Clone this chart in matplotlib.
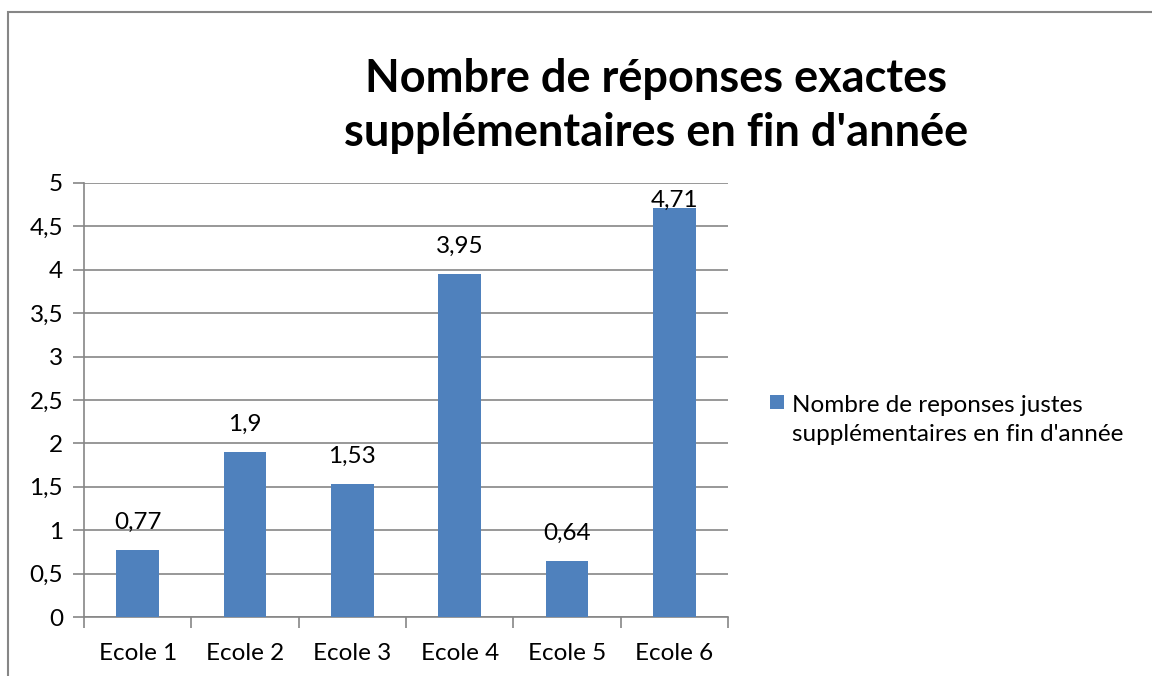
import matplotlib
matplotlib.use("Agg")
import matplotlib.pyplot as plt
from matplotlib.patches import Rectangle

categories = ["Ecole 1", "Ecole 2", "Ecole 3", "Ecole 4", "Ecole 5", "Ecole 6"]
values = [0.77, 1.9, 1.53, 3.95, 0.64, 4.71]
value_labels = ["0,77", "1,9", "1,53", "3,95", "0,64", "4,71"]
yticks = [0, 0.5, 1, 1.5, 2, 2.5, 3, 3.5, 4, 4.5, 5]
ytick_labels = ["0", "0,5", "1", "1,5", "2", "2,5", "3", "3,5", "4", "4,5", "5"]
title = "Nombre de réponses exactes\nsupplémentaires en fin d'année"
legend_label = "Nombre de reponses justes\nsupplémentaires en fin d'année"

plt.rcParams['font.family'] = ['Lato', 'DejaVu Sans']
W, H = 1152, 676
fig = plt.figure(figsize=(W / 100, H / 100), dpi=100)

# outer frame
fig.patches.append(Rectangle((8 / W, -0.1), 1.2, (H - 12) / H + 0.1, transform=fig.transFigure,
                             fill=False, edgecolor="#868686", linewidth=1.5))

ax_top, ax_bot = 183, 617
ax = fig.add_axes([84 / W, (H - ax_bot) / H, (728 - 84) / W, (ax_bot - ax_top) / H])
x = list(range(len(categories)))
color = "#4F81BD"
ymax = 5
ax.bar(x, values, width=0.4, color=color, zorder=3, label=legend_label)
ax.set_xlim(-0.5, len(categories) - 0.5)
ax.set_ylim(0, ymax)
ax.set_yticks(yticks)
ax.set_yticklabels(ytick_labels, fontsize=17.5)
ax.set_xticks(x)
ax.set_xticklabels(categories, fontsize=17.5)
ax.yaxis.grid(True, color="#868686", linewidth=1.2, zorder=0)
for s in ["top", "right"]:
    ax.spines[s].set_visible(False)
for s in ["left", "bottom"]:
    ax.spines[s].set_color("#868686")
    ax.spines[s].set_linewidth(1.2)
ax.tick_params(axis="y", length=8, color="#868686", width=1.2, pad=7)
ax.tick_params(axis="x", length=0, pad=19)
ax.set_xticks([i - 0.5 for i in range(len(categories) + 1)], minor=True)
ax.tick_params(axis="x", which="minor", length=8, color="#868686", width=1.2)

unit_px = (ax_bot - ax_top) / ymax
for xi, v, lab in zip(x, values, value_labels):
    ylab = min(v + 28 / unit_px, ymax - 17 / unit_px)
    ax.text(xi, ylab, lab, ha="center", va="center", fontsize=17.5, zorder=4)

fig.text(656 / W, 1 - 106 / H, title, ha="center", va="center", fontsize=32.5,
         fontweight="bold", linespacing=1.35)

fig.patches.append(Rectangle((770 / W, 1 - 409 / H), 14 / W, 14 / H, transform=fig.transFigure,
                             facecolor=color, edgecolor="none"))
fig.text(792 / W, 1 - 420 / H, legend_label, ha="left", va="center", fontsize=17.5,
         linespacing=1.45)

fig.savefig("out.png", dpi=100, facecolor="white")
